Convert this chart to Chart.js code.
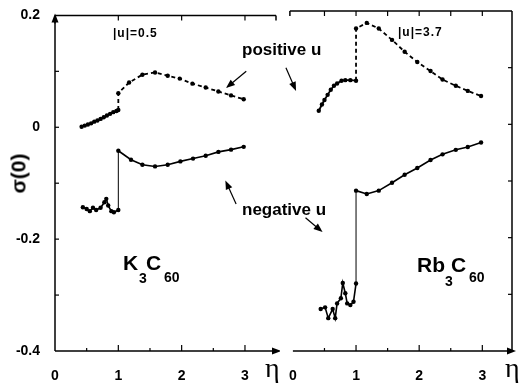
<!DOCTYPE html>
<html>
<head>
<meta charset="utf-8">
<script src="https://cdn.jsdelivr.net/npm/chart.js@4.4.1/dist/chart.umd.min.js"></script>
<style>
  body { margin: 0; background: #fff; }
  #wrap { position: relative; width: 519px; height: 386px; overflow: hidden;
          font-family: "Liberation Sans", Arial, sans-serif; font-weight: bold; color: #000; }
  canvas { position: absolute; top: 0; }
  .lbl { position: absolute; white-space: nowrap; line-height: 1; }
  .eta { position: absolute; line-height: 1; font-family: "Liberation Serif", serif;
         font-weight: normal; font-size: 28px; }
</style>
</head>
<body>
<div id="wrap">
  <canvas id="k3c60" width="280" height="386" style="left:0"></canvas>
  <canvas id="rb3c60" width="239" height="386" style="left:280px"></canvas>

  <div class="lbl" style="left:113px;top:27px;font-size:12px;letter-spacing:1px">|u|=0.5</div>
  <div class="lbl" style="left:398px;top:26px;font-size:12px;letter-spacing:1px">|u|=3.7</div>
  <div class="lbl" style="left:242px;top:41px;font-size:17px">positive u</div>
  <div class="lbl" style="left:242px;top:201px;font-size:17px">negative u</div>

  <div class="lbl" style="left:123px;top:252px;font-size:21px">K</div>
  <div class="lbl" style="left:139px;top:271px;font-size:14px">3</div>
  <div class="lbl" style="left:146px;top:252px;font-size:21px">C</div>
  <div class="lbl" style="left:164px;top:270px;font-size:14px">60</div>

  <div class="lbl" style="left:417px;top:254px;font-size:21px">Rb</div>
  <div class="lbl" style="left:445px;top:274px;font-size:14px">3</div>
  <div class="lbl" style="left:451px;top:254px;font-size:21px">C</div>
  <div class="lbl" style="left:469px;top:270px;font-size:14px">60</div>

  <div class="lbl" style="left:-12px;top:163px;width:60px;text-align:center;font-size:21px;transform:rotate(-90deg)">σ(0)</div>

  <div class="eta" style="left:265px;top:354px">η</div>
  <div class="eta" style="left:505px;top:354px">η</div>
</div>

<script>
// tick values shared by both panels
const xTickLabels = [0, 1, 2, 3];
const yTickLabels = [0.2, 0, -0.2, -0.4];

// K3C60, |u| = 0.5
const k3PosEta   = [0.42, 0.47, 0.52, 0.57, 0.62, 0.67, 0.72, 0.77, 0.82, 0.87, 0.92, 0.97, 1.0,
                    1.0, 1.17, 1.38, 1.58, 1.78, 1.97, 2.17, 2.38, 2.58, 2.78, 2.98];
const k3PosSigma = [0.001, 0.003, 0.005, 0.007, 0.010, 0.012, 0.015, 0.018, 0.021, 0.024, 0.027, 0.029, 0.031,
                    0.061, 0.080, 0.094, 0.098, 0.092, 0.087, 0.078, 0.071, 0.064, 0.057, 0.050];
const k3NegEta   = [0.44, 0.50, 0.55, 0.60, 0.65, 0.72, 0.78, 0.81, 0.84, 0.89, 0.93, 1.0,
                    1.0, 1.2, 1.38, 1.58, 1.78, 1.98, 2.18, 2.38, 2.58, 2.78, 2.98];
const k3NegSigma = [-0.143, -0.146, -0.150, -0.144, -0.148, -0.144, -0.134, -0.128, -0.140, -0.150, -0.152, -0.148,
                    -0.042, -0.058, -0.067, -0.070, -0.067, -0.061, -0.056, -0.051, -0.044, -0.040, -0.035];

// Rb3C60, |u| = 3.7
const rbPosEta   = [0.41, 0.46, 0.50, 0.55, 0.60, 0.65, 0.70, 0.77, 0.83, 0.91, 1.0,
                    1.0, 1.17, 1.36, 1.57, 1.77, 1.97, 2.18, 2.37, 2.58, 2.77, 2.98];
const rbPosSigma = [0.024, 0.035, 0.043, 0.052, 0.061, 0.068, 0.072, 0.077, 0.078, 0.078, 0.077,
                    0.169, 0.179, 0.169, 0.149, 0.128, 0.110, 0.094, 0.079, 0.068, 0.059, 0.050];
const rbNegEta   = [0.44, 0.51, 0.56, 0.63, 0.67, 0.70, 0.76, 0.79, 0.83, 0.86, 0.91, 0.96, 1.0,
                    1.0, 1.17, 1.36, 1.57, 1.77, 1.97, 2.18, 2.37, 2.58, 2.77, 2.98];
const rbNegSigma = [-0.326, -0.323, -0.342, -0.326, -0.342, -0.316, -0.307, -0.280, -0.298, -0.316, -0.319, -0.313, -0.281,
                    -0.117, -0.123, -0.117, -0.103, -0.089, -0.077, -0.063, -0.053, -0.045, -0.040, -0.032];

const toPoints = (xs, ys) => xs.map((x, i) => ({ x: x, y: ys[i] }));
const isJump = c => c.p0.parsed.x === c.p1.parsed.x;

function positiveSet(xs, ys) {
  return {
    data: toPoints(xs, ys),
    borderColor: '#000', borderWidth: 1.8,
    pointRadius: 2.2, pointBackgroundColor: '#000', pointBorderWidth: 0,
    segment: { borderDash: c => c.p0.parsed.x >= 1 ? [4, 3] : undefined }
  };
}

function negativeSet(xs, ys) {
  return {
    data: toPoints(xs, ys),
    borderColor: '#000', borderWidth: 1.6,
    pointRadius: 2.2, pointBackgroundColor: '#000', pointBorderWidth: 0,
    segment: { borderWidth: c => isJump(c) ? 1 : undefined }
  };
}

function arrow(ctx, x1, y1, x2, y2) {
  const ang = Math.atan2(y2 - y1, x2 - x1);
  ctx.beginPath();
  ctx.moveTo(x1, y1);
  ctx.lineTo(x2 - 6 * Math.cos(ang), y2 - 6 * Math.sin(ang));
  ctx.stroke();
  ctx.beginPath();
  ctx.moveTo(x2, y2);
  ctx.lineTo(x2 - 9 * Math.cos(ang) + 3.5 * Math.sin(ang), y2 - 9 * Math.sin(ang) - 3.5 * Math.cos(ang));
  ctx.lineTo(x2 - 9 * Math.cos(ang) - 3.5 * Math.sin(ang), y2 - 9 * Math.sin(ang) + 3.5 * Math.cos(ang));
  ctx.closePath();
  ctx.fill();
}

// frame lines, inward ticks and pointer arrows
const framePlugin = {
  id: 'frame',
  afterDraw(chart, args, opts) {
    const { ctx, chartArea: a, scales: { x, y } } = chart;
    ctx.save();
    ctx.strokeStyle = '#000';
    ctx.fillStyle = '#000';
    ctx.lineWidth = 1.5;

    // top edge
    ctx.beginPath();
    ctx.moveTo(a.left + opts.topStart, a.top);
    ctx.lineTo(a.right, a.top);
    ctx.stroke();
    ctx.beginPath();
    const endX = opts.side === 'left' ? a.right : a.left + opts.topStart;
    ctx.moveTo(endX, a.top);
    ctx.lineTo(endX, a.top + 5);
    ctx.stroke();

    // bottom axis with arrow
    ctx.beginPath();
    ctx.moveTo(a.left, a.bottom);
    ctx.lineTo(a.right, a.bottom);
    ctx.stroke();
    arrow(ctx, a.right - 4, a.bottom, a.right + opts.arrowOut, a.bottom);

    // vertical edge
    const vx = opts.side === 'left' ? a.left : a.right;
    ctx.beginPath();
    ctx.moveTo(vx, a.bottom);
    ctx.lineTo(vx, a.top);
    ctx.stroke();
    if (opts.side === 'left') arrow(ctx, a.left, a.top + 8, a.left, a.top - 2);

    ctx.lineWidth = 1.2;
    // y ticks every 0.1, pointing inward
    const dir = opts.side === 'left' ? 1 : -1;
    for (let v = -3; v <= 1; v++) {
      const py = y.getPixelForValue(v / 10);
      ctx.beginPath();
      ctx.moveTo(vx, py);
      ctx.lineTo(vx + dir * 4, py);
      ctx.stroke();
    }
    // x ticks every 0.5
    for (let h = 1; h <= 6; h++) {
      const px = x.getPixelForValue(h / 2);
      const major = h % 2 === 0;
      ctx.beginPath();
      ctx.moveTo(px, a.bottom);
      ctx.lineTo(px, a.bottom - (major ? 6 : 3));
      ctx.stroke();
      if (major || opts.side === 'right') {
        ctx.beginPath();
        ctx.moveTo(px, a.top);
        ctx.lineTo(px, a.top + 5);
        ctx.stroke();
      }
    }

    // pointers from the "positive u" / "negative u" labels
    ctx.lineWidth = 1.2;
    opts.pointers.forEach(p => {
      arrow(ctx, x.getPixelForValue(p[0]), y.getPixelForValue(p[1]),
                 x.getPixelForValue(p[2]), y.getPixelForValue(p[3]));
    });
    ctx.restore();
  }
};

function makeChart(id, datasets, xMax, side, padding, frameOpts) {
  return new Chart(document.getElementById(id), {
    type: 'line',
    data: { datasets: datasets },
    options: {
      responsive: false,
      animation: false,
      layout: { padding: padding },
      plugins: { legend: { display: false }, tooltip: { enabled: false }, frame: frameOpts },
      scales: {
        x: {
          type: 'linear', min: 0, max: xMax,
          grid: { display: false }, border: { display: false },
          afterFit: s => { s.height = 35; },
          afterBuildTicks: s => { s.ticks = xTickLabels.map(v => ({ value: v })); },
          ticks: { color: '#000', padding: 9, maxRotation: 0,
                   font: { family: 'Liberation Sans', weight: 'bold', size: 14 } }
        },
        y: {
          display: side === 'left',
          min: -0.4, max: 0.2,
          grid: { display: false }, border: { display: false },
          afterFit: s => { s.width = side === 'left' ? 55 : 0; },
          afterBuildTicks: s => { s.ticks = yTickLabels.map(v => ({ value: v })); },
          ticks: { color: '#000', padding: 7,
                   callback: v => v === 0 ? '0' : v.toFixed(1),
                   font: { family: 'Liberation Sans', weight: 'bold', size: 14 } }
        }
      }
    },
    plugins: [framePlugin]
  });
}

makeChart('k3c60',
  [positiveSet(k3PosEta, k3PosSigma), negativeSet(k3NegEta, k3NegSigma)],
  3.49, 'left', { top: 11, right: 3, left: 0, bottom: 0 },
  { side: 'left', topStart: 0, arrowOut: 5,
    pointers: [[3.02, 0.100, 2.70, 0.070], [2.86, -0.137, 2.69, -0.095]] });

makeChart('rb3c60',
  [positiveSet(rbPosEta, rbPosSigma), negativeSet(rbNegEta, rbNegSigma)],
  3.47, 'right', { top: 11, right: 7, left: 10, bottom: 0 },
  { side: 'right', topStart: -3, arrowOut: 4,
    pointers: [[-0.11, 0.100, 0.05, 0.059], [0.20, -0.165, 0.47, -0.190]] });
</script>
</body>
</html>
